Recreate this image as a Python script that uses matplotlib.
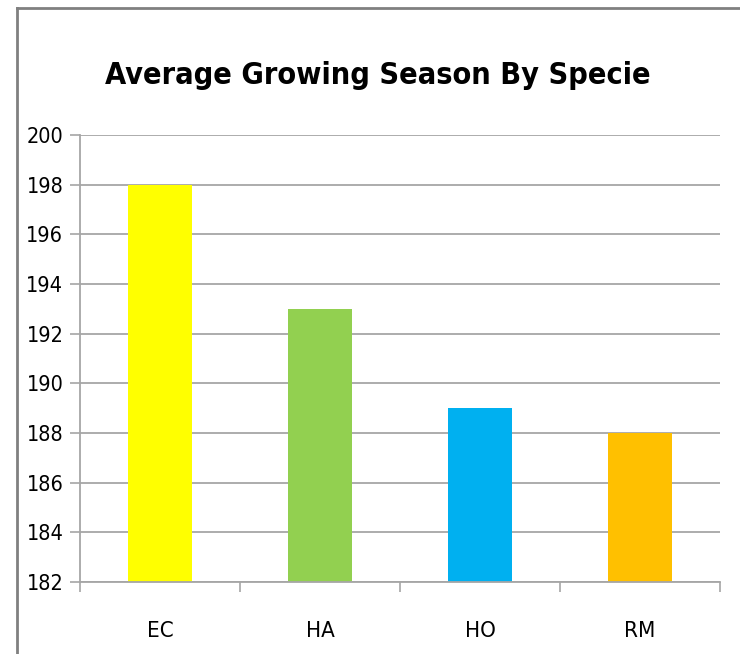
import matplotlib.pyplot as plt
from matplotlib.lines import Line2D

# Data
species = ['EC', 'HA', 'HO', 'RM']
season_days = [198, 193, 189, 188]
bar_colors = ['#FFFF00', '#92D050', '#00B0F0', '#FFC000']
y_ticks = list(range(182, 201, 2))

# condensed face is the closest thing to the narrow original font
plt.rcParams['font.family'] = ['DejaVu Sans']
plt.rcParams['font.stretch'] = 'condensed'

fig = plt.figure(figsize=(7.4, 6.54), dpi=100)
ax = fig.add_axes([80 / 740, 1 - 582 / 654, 640 / 740, (582 - 135) / 654])

x = range(len(species))
ax.bar(x, [v - 182 for v in season_days], bottom=182, width=0.4,
       color=bar_colors, zorder=2)

ax.set_xlim(-0.5, len(species) - 0.5)
ax.set_ylim(182, 200)
ax.set_yticks(y_ticks)
ax.set_yticklabels([str(t) for t in y_ticks], fontsize=15.5)
ax.yaxis.grid(True, color='#A6A6A6', linewidth=1.3, zorder=1)

# category labels centred, tick marks on category boundaries
ax.set_xticks(list(x))
ax.set_xticklabels(species, fontsize=16)
ax.tick_params(axis='x', length=0, pad=28)
ax.set_xticks([i - 0.5 for i in range(len(species) + 1)], minor=True)
ax.tick_params(axis='x', which='minor', length=7, color='#A6A6A6', width=1.2)
ax.tick_params(axis='y', length=7, color='#A6A6A6', width=1.2, pad=5)

for side in ['top', 'right']:
    ax.spines[side].set_visible(False)
for side in ['left', 'bottom']:
    ax.spines[side].set_color('#A6A6A6')
    ax.spines[side].set_linewidth(1.3)

fig.text(378 / 740, 1 - 84 / 654, 'Average Growing Season By Specie',
         ha='center', va='baseline', fontsize=22, fontweight='bold')

# chart area outline, only top and left edges show
fig.add_artist(Line2D([17 / 740, 17 / 740], [0, 1 - 8 / 654],
                      transform=fig.transFigure, color='#808080', linewidth=2))
fig.add_artist(Line2D([17 / 740, 1], [1 - 8 / 654, 1 - 8 / 654],
                      transform=fig.transFigure, color='#808080', linewidth=2))

fig.savefig('out.png', dpi=100)
